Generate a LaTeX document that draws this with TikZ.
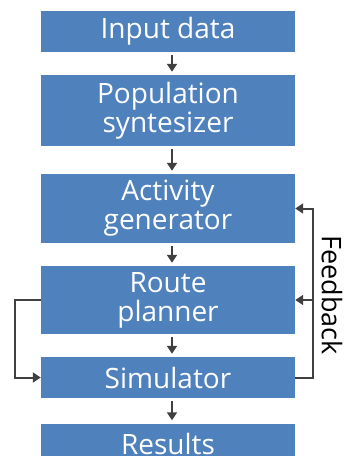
\documentclass[tikz,border=0pt]{standalone}
\usepackage{fontspec}
\setmainfont{Open Sans}
\usetikzlibrary{arrows.meta}

\definecolor{boxblue}{HTML}{4F81BD}
\definecolor{arrowgray}{HTML}{404040}

\tikzset{
  stage/.style={fill=boxblue, text=white, minimum width=254pt, inner sep=0pt,
    align=center, font=\fontsize{28}{29}\selectfont},
  flow/.style={draw=arrowgray, line width=2pt,
    -{Triangle[width=10pt,length=8pt]}},
}

\begin{document}
\begin{tikzpicture}[x=1pt,y=-1pt]
  \useasboundingbox (0,0) rectangle (344,456);
  \clip (0,0) rectangle (344,456);

  % the pipeline boxes
  \node[stage, minimum height=41pt] (input) at (168,31.5) {Input data};
  \node[stage, minimum height=71pt] (pop) at (168,110.5) {Population\\syntesizer};
  \node[stage, minimum height=69pt] (act) at (168,208.5) {Activity\\generator};
  \node[stage, minimum height=68pt] (route) at (168,300) {Route\\planner};
  \node[stage, minimum height=41pt] (sim) at (168,377.5) {Simulator};
  \node[stage, minimum height=41pt] (res) at (168,444) {Results};

  % downward arrows
  \draw[flow, shorten <=3pt, shorten >=3pt] ([xshift=4pt]input.south) -- ([xshift=4pt]pop.north);
  \draw[flow, shorten <=3pt, shorten >=3pt] ([xshift=4pt]pop.south) -- ([xshift=4pt]act.north);
  \draw[flow, shorten <=3pt, shorten >=3pt] ([xshift=4pt]act.south) -- ([xshift=4pt]route.north);
  \draw[flow, shorten <=3pt, shorten >=3pt] ([xshift=4pt]route.south) -- ([xshift=4pt]sim.north);
  \draw[flow, shorten <=3pt, shorten >=3pt] ([xshift=4pt]sim.south) -- ([xshift=4pt]res.north);

  % feedback loop on the right
  \coordinate (fbtop) at (313,208.5);
  \coordinate (fbmid) at (313,300);
  \draw[flow] (sim.east) -| (fbtop) -- (act.east);
  \draw[flow] (fbmid) -- (route.east);
  \node[rotate=-90, font=\fontsize{27}{29}\selectfont] (fbtext) at (332,295) {Feedback};

  % route planner straight into simulator
  \coordinate (lefttop) at (15,300);
  \draw[flow] (route.west) -- (lefttop) |- (sim.west);
\end{tikzpicture}
\end{document}
